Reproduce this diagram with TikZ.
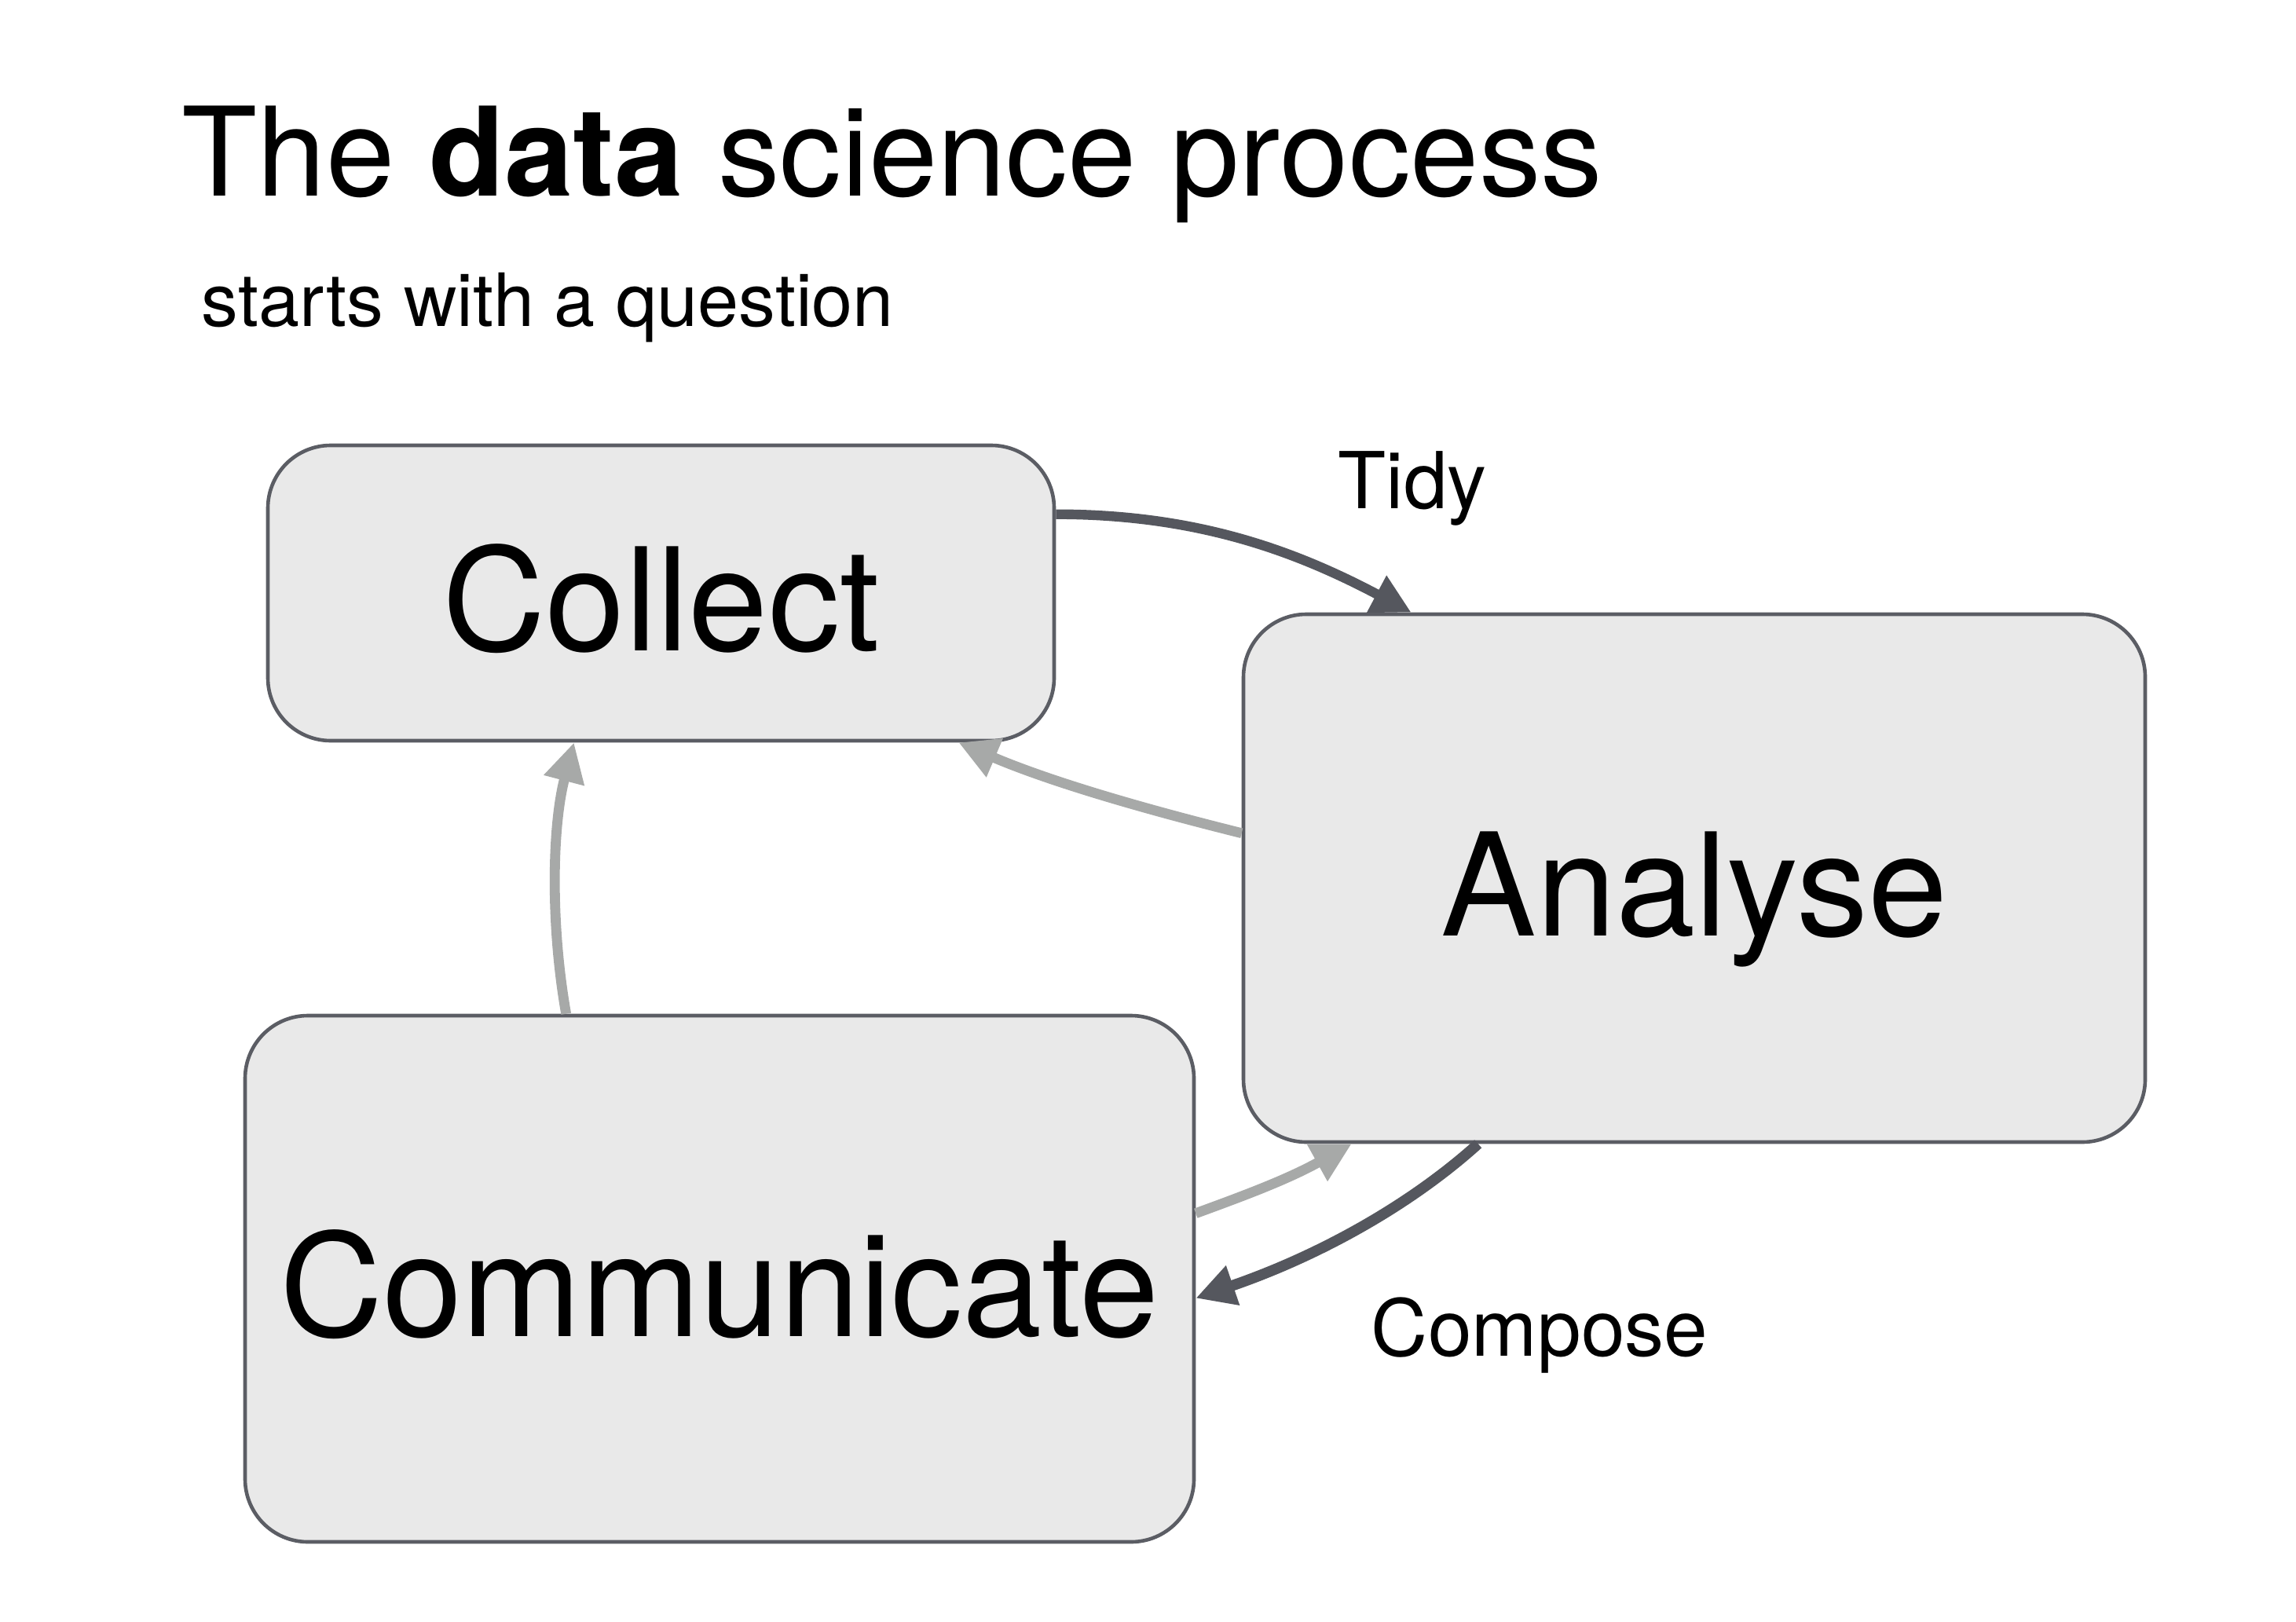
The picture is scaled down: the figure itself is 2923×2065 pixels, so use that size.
\documentclass[tikz,border=0pt]{standalone}
\usepackage{fontspec}
\setmainfont{TeX Gyre Heros}
\usetikzlibrary{arrows.meta,calc}
\definecolor{darkline}{HTML}{55575E}
\definecolor{lightline}{HTML}{A7A9A8}
\definecolor{boxfill}{HTML}{E9E9E9}
\definecolor{boxdraw}{HTML}{5B5D64}
\begin{document}
\begin{tikzpicture}[x=0.25pt,y=-0.25pt,
  box/.style={draw=boxdraw, fill=boxfill, line width=1.15pt, rounded corners=20pt,
    inner sep=0pt, text height=36.7pt, text depth=0pt,
    font=\fontsize{45.5pt}{50pt}\selectfont},
  darkarrow/.style={draw=darkline, line width=3.1pt, -{Triangle[length=12.5pt,width=12.5pt]}},
  lightarrow/.style={draw=lightline, line width=3.2pt, -{Triangle[length=12.5pt,width=12.5pt]}},
  lbl/.style={anchor=base west, inner sep=0pt, font=\fontsize{25pt}{30pt}\selectfont}
]
\useasboundingbox (0,0) rectangle (2923,2065);
\node[anchor=base west, inner sep=0pt, font=\fontsize{39.3pt}{47pt}\selectfont] (title) at (231,250) {The \textbf{data} science process};
\node[anchor=base west, inner sep=0pt, font=\fontsize{23.4pt}{28pt}\selectfont] (sub) at (256,415) {starts with a question};

\node[box, minimum width=250.25pt, minimum height=94pt] (collect) at (841.5,755) {Collect};
\node[box, minimum width=287pt, minimum height=168pt] (analyse) at (2157,1118) {Analyse};
\node[box, minimum width=302pt, minimum height=167.5pt] (comm) at (916,1628) {Communicate};

% Tidy
\draw[darkarrow] ($(collect.north east)+(0,90)$) .. controls +(178,0) and +(-149,-79) .. ($(analyse.north west)+(216,0)$);
% Analyse -> Collect
\draw[lightarrow] ($(analyse.north west)+(0,281)$) .. controls +(-113,-28) and +(122,52) .. ($(collect.south east)+(-124,0)$);
% Communicate -> Collect
\draw[lightarrow] ($(comm.north west)+(411,0)$) .. controls +(-20,-113) and +(-28,107) .. ($(collect.south west)+(392,0)$);
% Communicate -> Analyse
\draw[lightarrow] ($(comm.north east)+(0,254)$) .. controls +(60,-22) and +(-83,46) .. ($(analyse.south west)+(140,0)$);
% Compose
\draw[darkarrow, line width=3.4pt] ($(analyse.south west)+(301,0)$) .. controls +(-84,76) and +(160,-55) .. ($(comm.north east)+(0,362)$);

\node[lbl] (tidy) at (1703,647) {Tidy};
\node[lbl] (compose) at (1745,1726) {Compose};
\end{tikzpicture}
\end{document}
